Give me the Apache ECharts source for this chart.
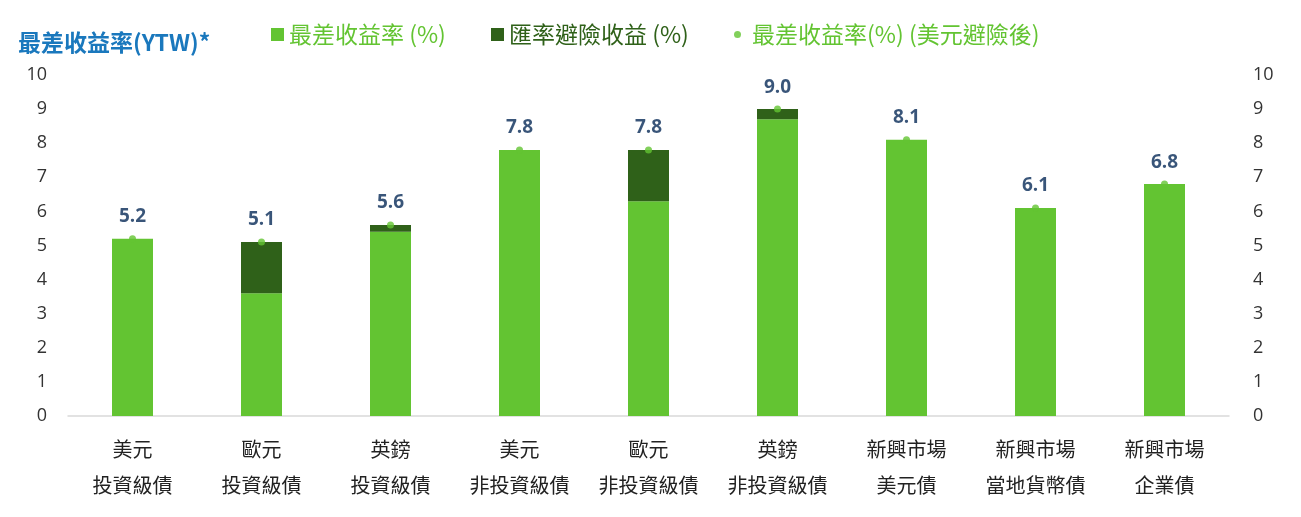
<!DOCTYPE html>
<html>
<head>
<meta charset="utf-8">
<script src="https://cdn.jsdelivr.net/npm/echarts@6/dist/echarts.min.js"></script>
<style>
html,body{margin:0;padding:0;background:#fff;}
#c{width:1301px;height:517px;}
</style>
</head>
<body>
<div id="c"></div>
<script>
const categories = ['美元\n投資級債','歐元\n投資級債','英鎊\n投資級債','美元\n非投資級債','歐元\n非投資級債','英鎊\n非投資級債','新興市場\n美元債','新興市場\n當地貨幣債','新興市場\n企業債'];
const ytwValues = [5.2, 3.6, 5.4, 7.8, 6.3, 8.7, 8.1, 6.1, 6.8];
const hedgeValues = [0, 1.5, 0.2, 0, 1.5, 0.3, 0, 0, 0];
const hedgedYtwValues = [5.2, 5.1, 5.6, 7.8, 7.8, 9.0, 8.1, 6.1, 6.8];
const yTicks = [0,1,2,3,4,5,6,7,8,9,10];

const FONT = '"Noto Sans CJK TC","Noto Sans",sans-serif';
const LIGHT = '#63c432';
const DARK = '#2f6119';
const NAVY = '#082a57';

const chart = echarts.init(document.getElementById('c'));
const yAxisCommon = {
  type:'value', min: yTicks[0], max: yTicks[yTicks.length-1], interval: 1,
  splitLine:{show:false}, axisLine:{show:false}, axisTick:{show:false},
  axisLabel:{fontSize:18, color:'#333', fontFamily:'"Open Sans","Noto Sans",sans-serif'}
};
chart.setOption({
  animation:false,
  textStyle:{fontFamily:FONT},
  title:{text:'最差收益率(YTW)*', left:13, top:26, textStyle:{fontSize:23, fontWeight:'bold', color:'#1a78bd', fontFamily:FONT}},
  legend:[
    {left:266, top:18, icon:'rect', itemWidth:13, itemHeight:13, itemGap:5, data:[{name:'最差收益率 (%)'}], textStyle:{fontSize:23, color:LIGHT, fontFamily:FONT}},
    {left:486, top:18, icon:'rect', itemWidth:13, itemHeight:13, data:[{name:'匯率避險收益 (%)'}], textStyle:{fontSize:23, color:DARK, fontFamily:FONT}},
    {left:729, top:18, icon:'circle', itemWidth:7, itemHeight:7, data:[{name:'最差收益率(%) (美元避險後)'}], textStyle:{fontSize:23, color:LIGHT, fontFamily:FONT, padding:[0,0,0,6]}}
  ],
  grid:{left:68, right:72, top:75, bottom:101},
  xAxis:{
    type:'category', data:categories,
    axisLine:{lineStyle:{color:'#d9d9d9', width:1.5}}, axisTick:{show:false},
    axisLabel:{fontSize:20, color:'#222', lineHeight:36, margin:15, fontFamily:FONT, interval:0}
  },
  yAxis:[
    Object.assign({}, yAxisCommon, {position:'left', axisLabel:Object.assign({}, yAxisCommon.axisLabel, {margin:21})}),
    Object.assign({}, yAxisCommon, {position:'right', axisLabel:Object.assign({}, yAxisCommon.axisLabel, {margin:24})})
  ],
  series:[
    {name:'最差收益率 (%)', type:'bar', stack:'a', barWidth:41, data:ytwValues, itemStyle:{color:LIGHT}},
    {name:'匯率避險收益 (%)', type:'bar', stack:'a', barWidth:41, data:hedgeValues, itemStyle:{color:DARK}},
    {name:'最差收益率(%) (美元避險後)', type:'scatter', data:hedgedYtwValues, symbolSize:7, itemStyle:{color:LIGHT}, z:5,
      label:{show:true, position:'top', distance:9, fontSize:19, fontWeight:'bold', color:NAVY, fontFamily:'"Open Sans","Noto Sans",sans-serif', formatter:p=>p.value.toFixed(1)}}
  ]
});
</script>
</body>
</html>
